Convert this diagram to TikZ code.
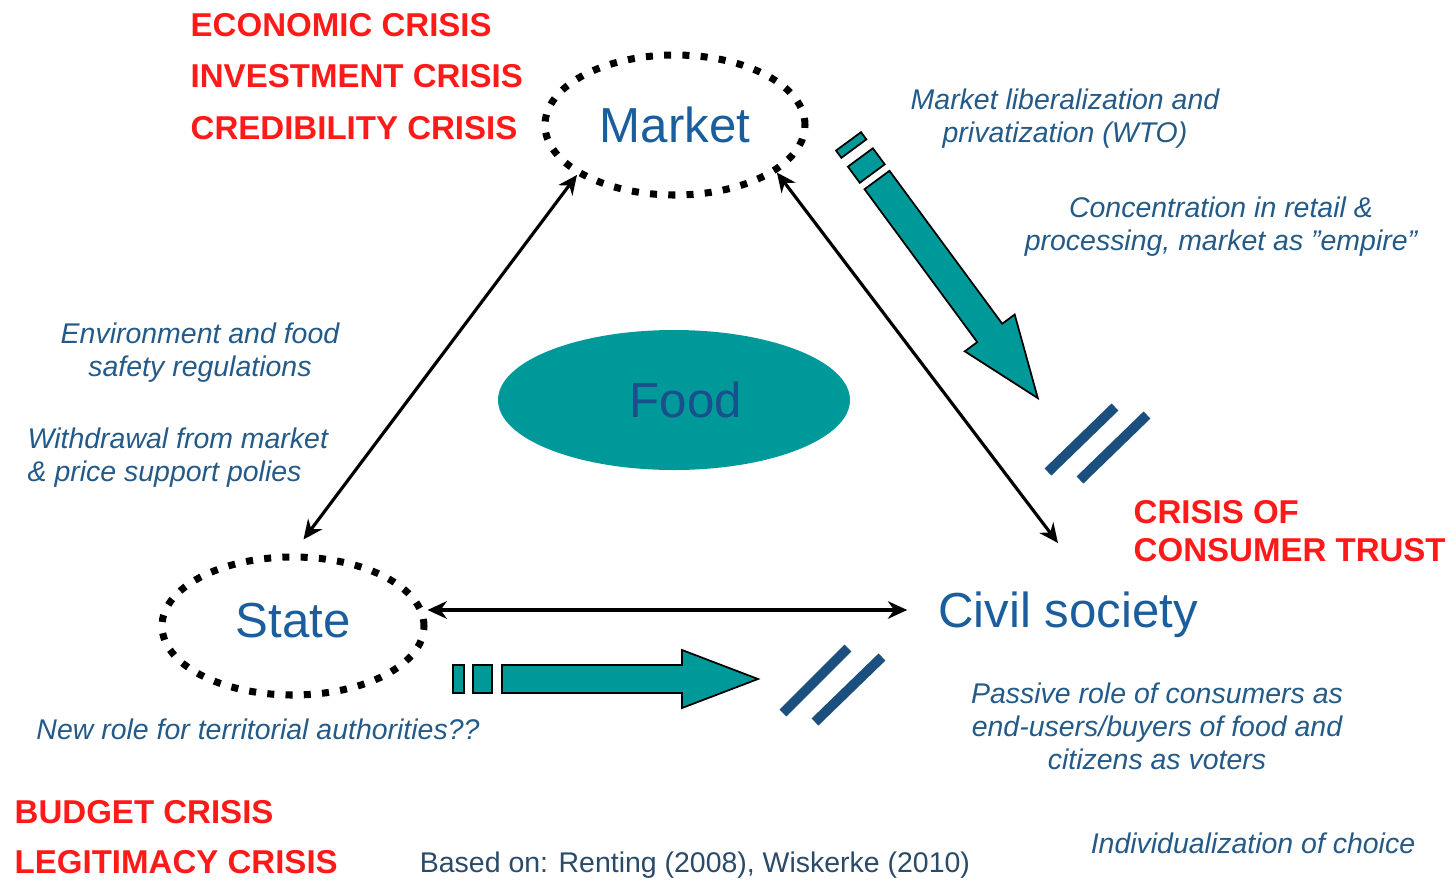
\documentclass[tikz,border=0pt]{standalone}
\usepackage{fontspec}
\setmainfont{Liberation Sans}
\usetikzlibrary{shapes.geometric,arrows.meta}
\definecolor{foodteal}{HTML}{009999}
\definecolor{crisisred}{HTML}{FF1A1A}
\definecolor{labelblue}{HTML}{1B5E9E}
\definecolor{noteblue}{HTML}{245A88}
\definecolor{foodblue}{HTML}{1A4E8C}
\definecolor{slashblue}{HTML}{1B4F7E}
\definecolor{srcblue}{HTML}{2A4A6A}

\begin{document}
\begin{tikzpicture}[
  pole/.style={ellipse,draw,line width=2pt,dash pattern=on 2pt off 3.2pt,
    minimum width=2.6cm,minimum height=1.4cm,inner sep=0pt,
    text=labelblue,font=\fontsize{14}{17}\selectfont},
  link/.style={{Stealth[length=5.5pt,width=5pt]}-{Stealth[length=5.5pt,width=5pt]},line width=0.9pt},
  crisis/.style={text=crisisred,font=\fontsize{9.4}{14.6}\selectfont\bfseries,
    align=left,inner sep=0pt,anchor=west},
  note/.style={text=noteblue,font=\fontsize{8.1}{9.4}\selectfont\itshape,align=center,inner sep=0pt},
  bigarrow/.style={fill=foodteal,draw=black,line width=0.5pt},
  slash/.style={slashblue,line width=2.8pt}
]
\useasboundingbox (0,0) rectangle (14.48,8.79);

% the three poles and food in the middle
\node[pole] (market) at (6.75,7.54) {Market};
\node[pole,minimum width=2.62cm,minimum height=1.38cm] (state) at (2.93,2.53) {\raisebox{0.12cm}{State}};
\node[text=labelblue,font=\fontsize{14}{17}\selectfont] (civil) at (10.68,2.64) {Civil society};
\node[ellipse,fill=foodteal,minimum width=3.52cm,minimum height=1.4cm,
  text=foodblue,font=\fontsize{14}{17}\selectfont] (food) at (6.74,4.79) {\hspace{0.24cm}Food};

% relations between the poles
\coordinate (civtop) at (10.58,3.36);
\draw[link,shorten >=0.175cm] (market.207) -- (state.north);
\draw[link] (market.335) -- (civtop);
\draw[link,shorten >=0.185cm] ([yshift=0.16cm]state.east) -- ([yshift=0.05cm]civil.west);

% push from the market
\begin{scope}[shift={(8.77,6.99)},rotate=-53.6]
\filldraw[bigarrow] (-0.48,-0.155) rectangle (-0.39,0.155);
\filldraw[bigarrow] (-0.28,-0.155) rectangle (-0.08,0.155);
\filldraw[bigarrow] (0,-0.155) -- (1.90,-0.155) -- (1.90,-0.31) -- (2.71,0)
  -- (1.90,0.31) -- (1.90,0.155) -- (0,0.155) -- cycle;
\end{scope}
\draw[slash] (10.48,4.07) -- (11.15,4.72);
\draw[slash] (10.80,3.99) -- (11.47,4.64);

% push from the state
\begin{scope}[shift={(5.02,2.00)}]
\filldraw[bigarrow] (-0.49,-0.14) rectangle (-0.38,0.14);
\filldraw[bigarrow] (-0.29,-0.14) rectangle (-0.10,0.14);
\filldraw[bigarrow] (0,-0.14) -- (1.80,-0.14) -- (1.80,-0.29) -- (2.56,0)
  -- (1.80,0.29) -- (1.80,0.14) -- (0,0.14) -- cycle;
\end{scope}
\draw[slash] (7.83,1.66) -- (8.48,2.31);
\draw[slash] (8.15,1.57) -- (8.82,2.22);

% crises
\node[crisis] (mktcrisis) at (1.90,8.025) {ECONOMIC CRISIS\\INVESTMENT CRISIS\\CREDIBILITY CRISIS};
\node[crisis,font=\fontsize{9.4}{10.8}\selectfont\bfseries] (trust) at (11.33,3.48) {CRISIS OF\\CONSUMER TRUST};
\node[crisis,font=\fontsize{9.4}{14.3}\selectfont\bfseries] (statecrisis) at (0.14,0.42) {BUDGET CRISIS\\LEGITIMACY CRISIS};

% notes
\node[note] (liberal) at (10.65,7.605) {Market liberalization and\\privatization (WTO)};
\node[note] (concentr) at (12.21,6.525) {Concentration in retail \&\\processing, market as "empire"};
\node[note] (regul) at (2.00,5.265) {Environment and food\\safety regulations};
\node[note,align=left,anchor=west] (withdraw) at (0.27,4.215) {Withdrawal from market\\\& price support polies};
\node[note] (newrole) at (2.58,1.50) {New role for territorial authorities??};
\node[note] (passive) at (11.57,1.53) {Passive role of consumers as\\end-users/buyers of food and\\citizens as voters};
\node[note] (indiv) at (12.53,0.36) {Individualization of choice};
\node[text=srcblue,font=\fontsize{8.1}{10}\selectfont,inner sep=0pt] (source) at (6.95,0.14)
  {Based on: Renting (2008), Wiskerke (2010)};
\end{tikzpicture}
\end{document}
